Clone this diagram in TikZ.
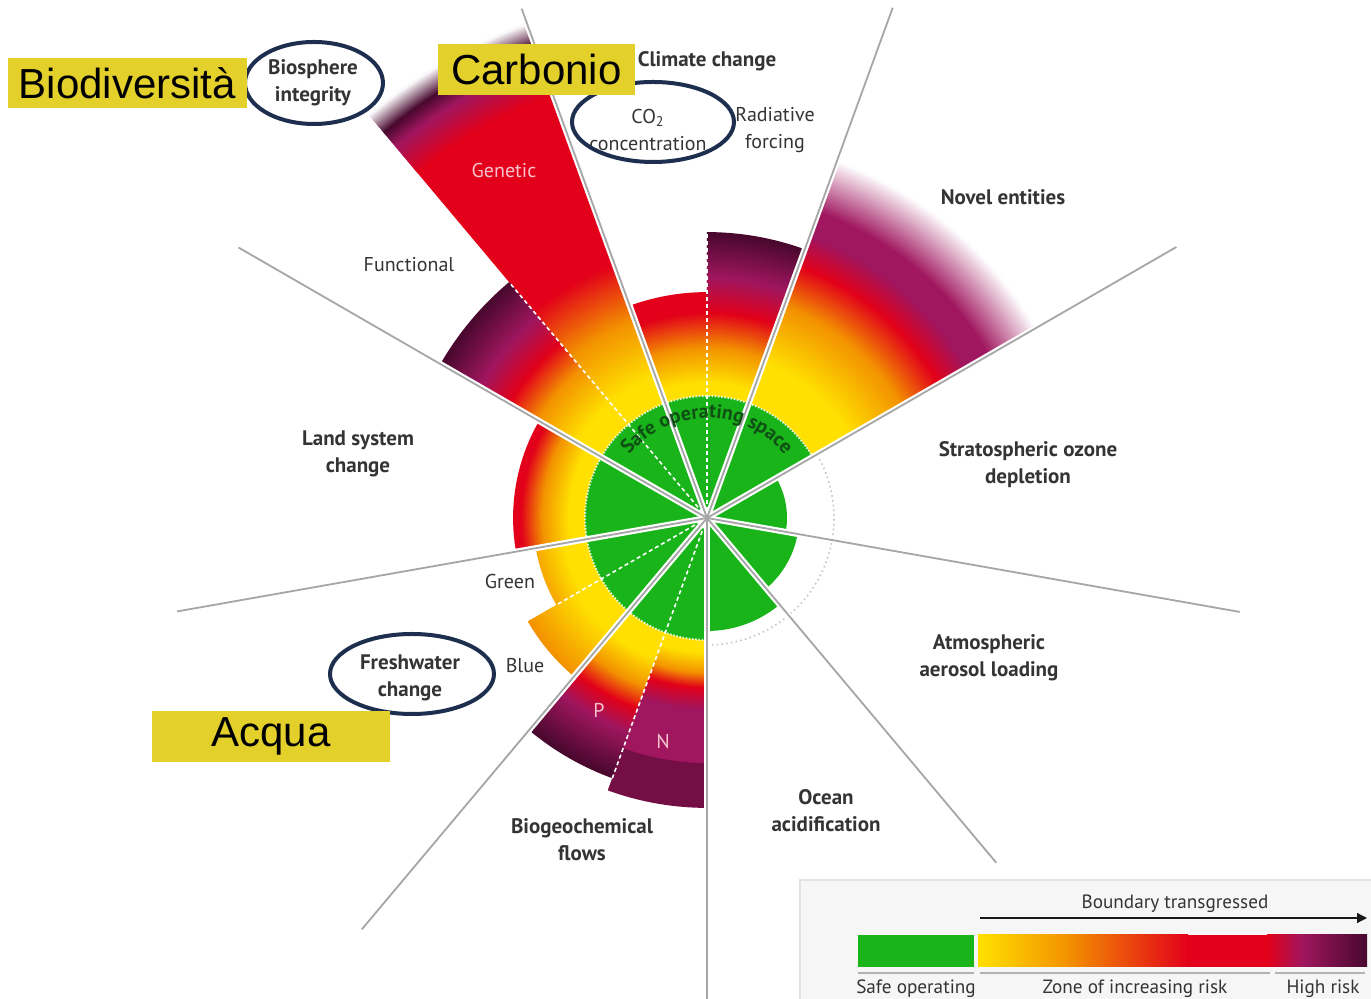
\documentclass[tikz,border=0pt]{standalone}
\usepackage{fontspec}
\setmainfont{PT Sans}
\newfontfamily\arialf{Liberation Sans}
\usetikzlibrary{decorations.text,arrows.meta}
\definecolor{cY}{RGB}{255,224,0}
\definecolor{cO}{RGB}{243,146,0}
\definecolor{cR}{RGB}{226,0,26}
\definecolor{cM}{RGB}{160,22,95}
\definecolor{cD}{RGB}{72,8,46}
\definecolor{safegreen}{RGB}{25,180,25}
\definecolor{labelgrey}{RGB}{52,52,52}
\definecolor{navy}{RGB}{30,46,78}
\definecolor{boxyellow}{RGB}{227,208,42}
\definecolor{safetext}{RGB}{15,80,20}
\definecolor{pinklabel}{RGB}{248,195,205}

% annular sector with radial colour ramp: a1 a2 r1 r2 c1 c2
\newcommand\gradseg[6]{%
  \pgfmathtruncatemacro\gsN{max(1,round(((#4)-(#3))/1.5))}%
  \foreach \gsi in {1,...,\gsN}{%
    \pgfmathsetmacro\gsra{(#3)+(\gsi-1)*((#4)-(#3))/\gsN}%
    \pgfmathsetmacro\gsrb{(#3)+\gsi*((#4)-(#3))/\gsN+0.9}%
    \pgfmathtruncatemacro\gsp{round(100*(1-(\gsi-0.5)/\gsN))}%
    \fill[#5!\gsp!#6] (#1:\gsra) -- (#1:\gsrb) arc[start angle=#1,end angle=#2,radius=\gsrb] -- (#2:\gsra) arc[start angle=#2,end angle=#1,radius=\gsra] -- cycle;%
  }%
}
\newcommand\solidseg[5]{%
  \fill[#5] (#1:#3) -- (#1:#4+0.9) arc[start angle=#1,end angle=#2,radius=#4+0.9] -- (#2:#3) arc[start angle=#2,end angle=#1,radius=#3] -- cycle;%
}

\tikzset{
  bound/.style={font=\bfseries\fontsize{10.5}{13.5}\selectfont, text=labelgrey, align=center, inner sep=0pt},
  sublabel/.style={font=\fontsize{10}{13.5}\selectfont, text=labelgrey, align=center, inner sep=0pt},
  onwedge/.style={font=\fontsize{10}{12}\selectfont, text=pinklabel, inner sep=0pt},
  divider/.style={line width=0.9pt, draw=gray!70},
  casing/.style={line width=3pt, draw=white},
  whitedash/.style={draw=white, line width=0.8pt, dash pattern=on 2pt off 1.5pt},
  ring/.style={draw=navy, line width=2pt},
  ybox/.style={fill=boxyellow, inner sep=0pt, font=\arialf\fontsize{21}{21}\selectfont, text=black},
  legendtext/.style={font=\fontsize{9.6}{12}\selectfont, text=labelgrey, inner sep=0pt},
}

\begin{document}
\begin{tikzpicture}[x=0.5pt,y=0.5pt]
\useasboundingbox (-707,-481) rectangle (664,518);
\fill[white] (-707,-481) rectangle (664,518);

% ---------- Genetic (110-130)
\solidseg{110}{130}{118}{150}{cY}
\gradseg{110}{130}{150}{210}{cY}{cO}
\gradseg{110}{130}{210}{270}{cO}{cR}
\solidseg{110}{130}{270}{450}{cR}
\gradseg{110}{130}{450}{485}{cR}{cM}
\gradseg{110}{130}{485}{503}{cM}{cD}
\gradseg{110}{130}{503}{526}{cD}{white}
% ---------- Functional (130-150)
\solidseg{130}{150}{118}{150}{cY}
\gradseg{130}{150}{150}{195}{cY}{cO}
\gradseg{130}{150}{195}{228}{cO}{cR}
\gradseg{130}{150}{228}{262}{cR}{cM}
\gradseg{130}{150}{262}{307}{cM}{cD}
% ---------- Land system change (150-190)
\solidseg{150}{190}{118}{138}{cY}
\gradseg{150}{190}{138}{165}{cY}{cO}
\gradseg{150}{190}{165}{186}{cO}{cR}
\solidseg{150}{190}{186}{193}{cR}
% ---------- Freshwater green (190-210)
\solidseg{190}{210}{118}{145}{cY}
\gradseg{190}{210}{145}{173}{cY}{cO!70!cY}
% ---------- Freshwater blue (210-230)
\solidseg{210}{230}{118}{150}{cY}
\gradseg{210}{230}{150}{206}{cY}{cO}
% ---------- P (-130 to -110)
\solidseg{-130}{-110}{118}{150}{cY}
\gradseg{-130}{-110}{150}{180}{cY}{cO}
\gradseg{-130}{-110}{180}{203}{cO}{cR}
\gradseg{-130}{-110}{203}{228}{cR}{cM}
\gradseg{-130}{-110}{228}{276}{cM}{cD}
% ---------- N (-110 to -90)
\solidseg{-110}{-90}{118}{135}{cY}
\gradseg{-110}{-90}{135}{155}{cY}{cO}
\gradseg{-110}{-90}{155}{170}{cO}{cR}
\gradseg{-110}{-90}{170}{192}{cR}{cM}
\solidseg{-110}{-90}{192}{245}{cM}
\gradseg{-110}{-90}{245}{289}{cM}{cM!50!cD}
% ---------- CO2 concentration (90-110)
\solidseg{90}{110}{118}{135}{cY}
\gradseg{90}{110}{135}{170}{cY}{cO}
\gradseg{90}{110}{170}{205}{cO}{cR}
\solidseg{90}{110}{205}{225}{cR}
% ---------- Radiative forcing (70-90)
\solidseg{70}{90}{118}{135}{cY}
\gradseg{70}{90}{135}{170}{cY}{cO}
\gradseg{70}{90}{170}{205}{cO}{cR}
\gradseg{70}{90}{205}{240}{cR}{cM}
\gradseg{70}{90}{240}{285}{cM}{cD}
% ---------- Novel entities (30-70)
\solidseg{30}{70}{118}{165}{cY}
\gradseg{30}{70}{165}{225}{cY}{cO}
\gradseg{30}{70}{225}{268}{cO}{cR}
\gradseg{30}{70}{268}{300}{cR}{cM}
\solidseg{30}{70}{300}{325}{cM}
\gradseg{30}{70}{325}{380}{cM}{white}

% ---------- green core
\fill[safegreen] (0,0) -- (30:122) arc[start angle=30,end angle=270,radius=122] -- cycle;
\fill[safegreen] (0,0) -- (-10:80) arc[start angle=-10,end angle=30,radius=80] -- cycle;
\fill[safegreen] (0,0) -- (-50:92) arc[start angle=-50,end angle=-10,radius=92] -- cycle;
\fill[safegreen] (0,0) -- (-90:113) arc[start angle=-90,end angle=-50,radius=113] -- cycle;
\draw[white, line width=1pt, dash pattern=on 0.8pt off 0.8pt, opacity=0.8] (30:122) arc[start angle=30,end angle=270,radius=122];
\draw[gray!45, line width=0.8pt, dash pattern=on 0.8pt off 1.6pt] (-90:127) arc[start angle=-90,end angle=30,radius=127];

% ---------- white dashed sub-dividers
\draw[whitedash] (0,0) -- (90:285);
\draw[whitedash] (0,0) -- (130:307);
\draw[whitedash] (0,0) -- (210:173);
\draw[whitedash] (0,0) -- (-110:278);

% ---------- divider lines
\coordinate (ctr) at (0,0);
\foreach \ang/\len in {110/542,70/543,30/542,-10/541,-50/450,-90/481,-130/537,190/538,150/541}{
  \coordinate (d\ang) at (\ang:\len);
  \draw[casing] (ctr) -- (d\ang);
}
\foreach \ang in {110,70,30,-10,-50,-90,-130,190,150}{
  \draw[divider] (ctr) -- (d\ang);
}

% ---------- safe operating space
\path[decorate, decoration={text along path, text align=center,
  text={|\bfseries\color{safetext}\fontsize{10}{11}\selectfont|Safe operating space}}]
  (165:100) arc[start angle=165,end angle=15,radius=100];

% ---------- labels
\node[bound] (cc) at (0,457) {Climate change};
\node[sublabel] (co2) at (-59,388) {CO\textsubscript{2}\\concentration};
\node[sublabel] (rf) at (68,388) {Radiative\\forcing};
\node[bound] (ne) at (296,321) {Novel entities};
\node[bound] (oz) at (321,53) {Stratospheric ozone\\depletion};
\node[bound] (ae) at (282,-140) {Atmospheric\\aerosol loading};
\node[bound] (oa) at (119,-293) {Ocean\\acidification};
\node[bound] (bf) at (-125,-322) {Biogeochemical\\flows};
\node[onwedge] (nl) at (-44,-224) {N};
\node[onwedge] (pl) at (-108,-192) {P};
\node[sublabel] (gr) at (-197,-64) {Green};
\node[sublabel] (bl) at (-182,-148) {Blue};
\node[bound] (fw) at (-297,-160) {Freshwater\\change};
\node[bound] (ls) at (-349,64) {Land system\\change};
\node[sublabel] (fn) at (-298,253) {Functional};
\node[onwedge] (gn) at (-203,347) {Genetic};
\node[bound] (bi) at (-394,435) {Biosphere\\integrity};

% ---------- highlight ellipses
\draw[ring] (-393,435) ellipse[x radius=69, y radius=41];
\draw[ring] (-54,396) ellipse[x radius=81, y radius=40];
\draw[ring] (-295,-156) ellipse[x radius=82, y radius=40];

% ---------- yellow boxes
\node[ybox, minimum width=119.5pt, minimum height=25pt] (bio) at (-579.5,435) {Biodiversit\`a};
\node[ybox, minimum width=98.5pt, minimum height=25.5pt] (carb) at (-170.5,448.5) {Carbonio};
\node[ybox, minimum width=119pt, minimum height=25.5pt] (acq) at (-436,-218.5) {Acqua};

% ---------- legend
\fill[gray!7] (93,-362) rectangle (664,-481);
\draw[gray!22, line width=0.8pt] (93,-481) -- (93,-362) -- (664,-362);
\node[legendtext] (bt) at (468,-386) {Boundary transgressed};
\coordinate (arrS) at (273,-400);
\coordinate (arrE) at (660,-400);
\draw[gray!20!black, line width=0.6pt, -{Triangle[length=5pt,width=5pt]}] (arrS) -- (arrE);
\fill[safegreen] (151,-417) rectangle (267,-449);
\shade[left color=cY, right color=cO] (271,-417) rectangle (361,-449);
\shade[left color=cO, right color=cR] (360,-417) rectangle (481,-449);
\fill[cR] (480,-417) rectangle (561,-449);
\shade[left color=cR, right color=cM] (560,-417) rectangle (596,-449);
\shade[left color=cM, right color=cD] (595,-417) rectangle (660,-449);
\draw[gray!60, line width=1pt] (151,-455) -- (267,-455);
\draw[gray!60, line width=1pt] (273,-455) -- (563,-455);
\draw[gray!60, line width=1pt] (568,-455) -- (658,-455);
\node[legendtext] (lsafe) at (209,-471) {Safe operating};
\node[legendtext] (lzone) at (428,-471) {Zone of increasing risk};
\node[legendtext] (lhigh) at (616,-471) {High risk};
\end{tikzpicture}
\end{document}
